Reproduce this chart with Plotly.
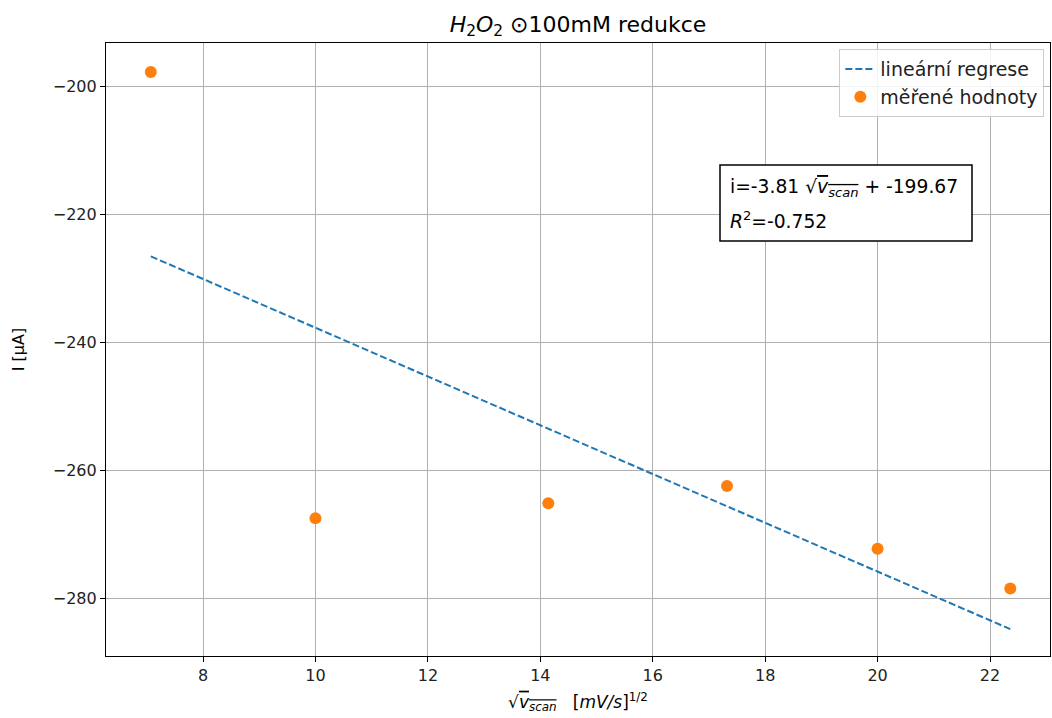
import numpy as np
import plotly.graph_objects as go

# data
x_vals = [7.071, 10.0, 14.142, 17.321, 20.0, 22.361]
i_vals = [-197.8, -267.55, -265.2, -262.5, -272.3, -278.5]
slope = -3.81
intercept = -199.67
r2_text = "-0.752"

x_ticks = [8, 10, 12, 14, 16, 18, 20, 22]
y_ticks = [-200, -220, -240, -260, -280]
y_tick_text = ["\u2212200", "\u2212220", "\u2212240", "\u2212260", "\u2212280"]

x_line = np.array([min(x_vals), max(x_vals)])
y_line = slope * x_line + intercept

FONT = "DejaVu Sans"
L, R, T, B = 106, 1050, 43, 656
PW, PH = R - L, B - T


def px(x):
    return (x - L) / PW


def py(y):
    return 1 - (y - T) / PH


fig = go.Figure()
fig.add_trace(go.Scatter(
    x=x_line, y=y_line, mode="lines", name="lineární regrese",
    line=dict(color="#1f77b4", width=2, dash="7px,3px"),
))
fig.add_trace(go.Scatter(
    x=x_vals, y=i_vals, mode="markers", name="měřené hodnoty",
    marker=dict(color="#ff7f0e", size=12),
))

axis_common = dict(
    showline=True, linecolor="black", linewidth=1.2, mirror=True,
    ticks="outside", ticklen=5, tickcolor="black", tickwidth=1,
    showgrid=True, gridcolor="#b0b0b0", gridwidth=1,
    zeroline=False, tickfont=dict(family=FONT, size=16, color="#222"),
)

fig.update_layout(
    width=1052, height=718,
    margin=dict(l=L, r=1052 - R, t=T, b=718 - B),
    paper_bgcolor="white", plot_bgcolor="white",
    font=dict(family=FONT, size=16, color="black"),
    title=dict(
        text="<i>H</i><sub>2</sub><i>O</i><sub>2</sub> \u2299100mM redukce",
        x=(L + R) / 2 / 1052, xanchor="center", y=1 - 24 / 718, yanchor="middle",
        font=dict(family=FONT, size=22, color="black"),
    ),
    xaxis=dict(
        range=[6.274, 23.067], tickvals=x_ticks,
        title=dict(text="\u221a<span style='text-decoration:overline'><i>v<sub>scan</sub></i></span>   [<i>mV/s</i>]<sup>1/2</sup>",
                   font=dict(family=FONT, size=17), standoff=11),
        **axis_common,
    ),
    yaxis=dict(
        range=[-289.06, -193.28], tickvals=y_ticks, ticktext=y_tick_text,
        title=dict(text="I [µA]", font=dict(family=FONT, size=16), standoff=24),
        **axis_common,
    ),
    legend=dict(
        x=0.994, y=0.99, xanchor="right", yanchor="top",
        bgcolor="rgba(255,255,255,0.85)", bordercolor="#cccccc", borderwidth=1,
        font=dict(family=FONT, size=19, color="#222"),
        tracegroupgap=2,
    ),
    showlegend=True,
)

# text box with regression equation
fig.add_shape(
    type="rect", xref="paper", yref="paper",
    x0=px(720), x1=px(972), y0=py(241), y1=py(165),
    line=dict(color="black", width=1.5), fillcolor="white", layer="above",
)
fig.add_annotation(
    xref="paper", yref="paper", x=px(728), y=py(188),
    xanchor="left", yanchor="middle", align="left", showarrow=False,
    text=f"i={slope:.2f} \u221a<span style='text-decoration:overline'><i>v<sub>scan</sub></i></span> + {intercept:.2f}",
    font=dict(family=FONT, size=18.7, color="black"),
)
fig.add_annotation(
    xref="paper", yref="paper", x=px(728), y=py(220),
    xanchor="left", yanchor="middle", align="left", showarrow=False,
    text=f"<i>R</i><sup>2</sup>={r2_text}",
    font=dict(family=FONT, size=18.7, color="black"),
)

fig.write_html("out.html")
